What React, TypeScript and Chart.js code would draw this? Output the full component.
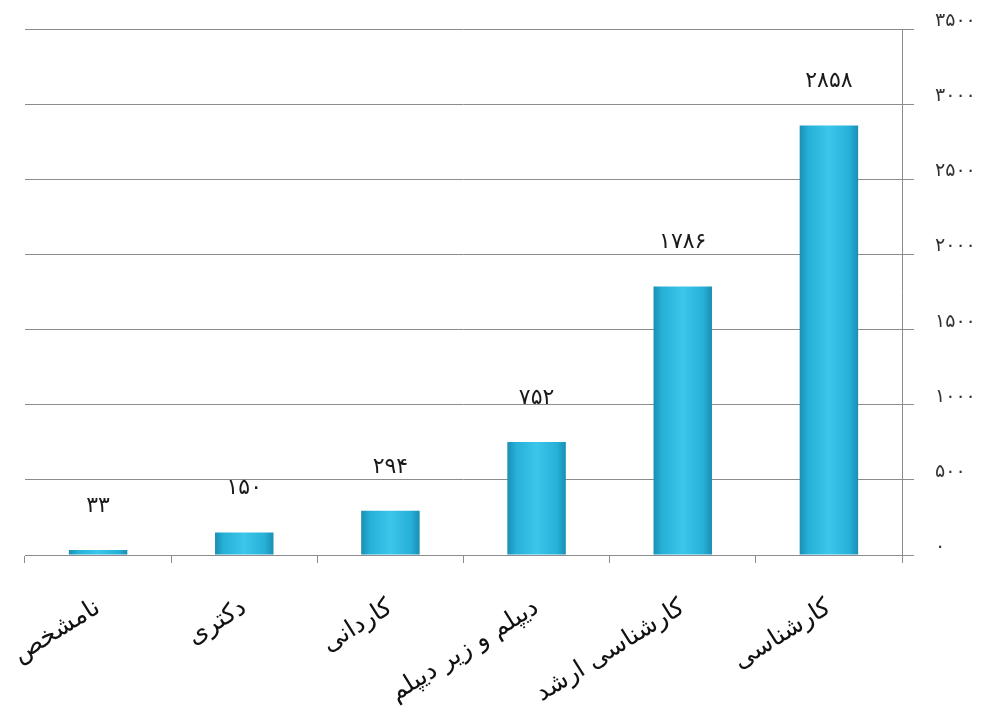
import React, { useEffect, useRef } from "react";
import { Chart, registerables } from "chart.js";

Chart.register(...registerables);

const categories = ["نامشخص", "دکتری", "کاردانی", "دیپلم و زیر دیپلم", "کارشناسی ارشد", "کارشناسی"];
const counts = [33, 150, 294, 752, 1786, 2858];
const yMax = 3500;
const yStep = 500;

const FA_DIGITS = ["۰", "۱", "۲", "۳", "۴", "۵", "۶", "۷", "۸", "۹"];
const toFa = (v: number | string) => String(v).replace(/[0-9]/g, (d) => FA_DIGITS[Number(d)]);

const FONT = "'DejaVu Sans', sans-serif";

export default function App() {
  const ref = useRef<HTMLCanvasElement | null>(null);

  useEffect(() => {
    document.body.style.margin = "0";
    const canvas = ref.current!;
    const labelPlugin = {
      id: "barValues",
      afterDatasetsDraw(chart: any) {
        const c = chart.ctx;
        const meta = chart.getDatasetMeta(0);
        c.save();
        c.font = `22px ${FONT}`;
        c.fillStyle = "#1a1a1a";
        c.textAlign = "center";
        c.textBaseline = "middle";
        meta.data.forEach((bar: any, i: number) => {
          c.fillText(toFa(counts[i]), bar.x, bar.y - 44);
        });
        c.restore();
      },
    };

    const chart = new Chart(canvas, {
      type: "bar",
      data: {
        labels: categories,
        datasets: [
          {
            data: counts,
            categoryPercentage: 1,
            barPercentage: 0.4,
            borderWidth: 0,
            backgroundColor: (ctx: any) => {
              const ch = ctx.chart;
              const xs = ch.scales?.x;
              if (!xs || !ch.chartArea) return "#2bb5dc";
              const cx = xs.getPixelForValue(ctx.dataIndex);
              const half = (xs.width / categories.length) * 0.4 / 2;
              const g = ch.ctx.createLinearGradient(cx - half, 0, cx + half, 0);
              g.addColorStop(0, "#1a8fb3");
              g.addColorStop(0.15, "#27b0d8");
              g.addColorStop(0.5, "#3cc6ea");
              g.addColorStop(0.85, "#27b0d8");
              g.addColorStop(1, "#1a8fb3");
              return g;
            },
          },
        ],
      },
      options: {
        responsive: false,
        animation: false,
        devicePixelRatio: 1,
        layout: { padding: { left: 25, top: 29, right: 0, bottom: 0 } },
        plugins: {
          legend: { display: false },
          tooltip: { enabled: false },
        },
        scales: {
          x: {
            grid: {
              display: true,
              drawOnChartArea: false,
              drawTicks: true,
              tickLength: 8,
              offset: true,
              color: "#8c8c8c",
            },
            border: { display: true, color: "#8c8c8c" },
            ticks: {
              minRotation: 32,
              maxRotation: 32,
              autoSkip: false,
              padding: 30,
              color: "#111",
              font: { family: FONT, size: 25 },
            },
            afterFit: (s: any) => {
              s.height = 158;
              s.paddingLeft = 0;
              s.paddingRight = 0;
            },
          },
          y: {
            position: "right",
            min: 0,
            max: yMax,
            ticks: {
              stepSize: yStep,
              padding: 21,
              labelOffset: -8,
              color: "#333",
              font: { family: FONT, size: 19 },
              callback: (v: any) => toFa(v),
            },
            grid: { color: "#8c8c8c", tickLength: 12, drawTicks: true },
            border: { display: true, color: "#8c8c8c" },
            afterFit: (s: any) => {
              s.width = 96;
              s.paddingTop = 0;
              s.paddingBottom = 0;
            },
          },
        },
      },
      plugins: [labelPlugin],
    });
    return () => chart.destroy();
  }, []);

  return (
    <div style={{ width: 998, height: 713, background: "#fff" }}>
      <canvas ref={ref} width={998} height={713} style={{ display: "block" }} />
    </div>
  );
}
